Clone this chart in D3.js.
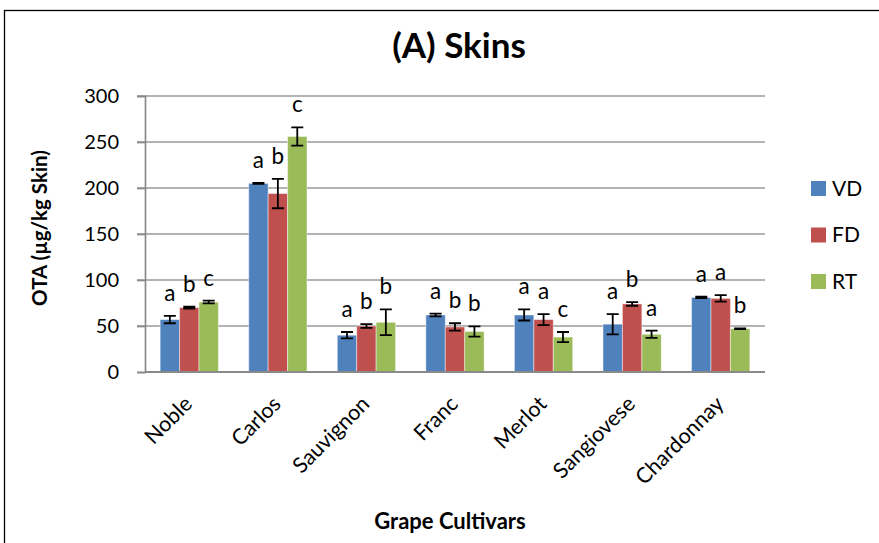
<!DOCTYPE html>
<html>
<head>
<meta charset="utf-8">
<script src="https://cdn.jsdelivr.net/npm/d3@7"></script>
<style>
  body { margin: 0; background: #fff; }
  svg { display: block; font-family: Lato, "Open Sans", sans-serif; }
</style>
</head>
<body>
<div id="chart"></div>
<script>
// values (OTA, ug/kg skin)
var categories = ["Noble", "Carlos", "Sauvignon", "Franc", "Merlot", "Sangiovese", "Chardonnay"];
var seriesNames = ["VD", "FD", "RT"];
var vdValues = [57, 205, 40, 62, 62, 52, 81];
var fdValues = [70, 194, 50, 49, 57, 74, 80];
var rtValues = [76, 256, 54, 44, 38, 41, 47];
var vdErrors = [4, 0.5, 3.5, 1.5, 6, 11, 0.8];
var fdErrors = [1, 16, 2, 4, 6, 2, 3.5];
var rtErrors = [1.5, 10, 14, 5.5, 5.5, 4, 0.5];
var vdLetters = ["a", "a", "a", "a", "a", "a", "a"];
var fdLetters = ["b", "b", "b", "b", "a", "b", "a"];
var rtLetters = ["c", "c", "b", "b", "c", "a", "b"];
var yTicks = [0, 50, 100, 150, 200, 250, 300];

var colors = {VD: "#4F81BD", FD: "#C0504D", RT: "#9BBB59"};

var width = 879, height = 543;
var plot = {left: 145, right: 765, top: 96, bottom: 372};

var svg = d3.select("#chart").append("svg")
    .attr("width", width)
    .attr("height", height);

// outer frame of the chart object
svg.append("rect")
    .attr("x", 4.5).attr("y", 10.5)
    .attr("width", 900).attr("height", 600)
    .attr("fill", "none")
    .attr("stroke", "#000")
    .attr("stroke-width", 1.3);

var x = d3.scaleBand()
    .domain(categories)
    .range([plot.left, plot.right])
    .paddingInner(0.342)
    .paddingOuter(0.171);

var x1 = d3.scaleBand()
    .domain(seriesNames)
    .range([0, x.bandwidth()]);

var y = d3.scaleLinear()
    .domain([0, 300])
    .range([plot.bottom, plot.top]);

// gridlines
svg.append("g")
    .selectAll("line")
    .data(yTicks.filter(function(d) { return d > 0; }))
    .enter().append("line")
    .attr("x1", plot.left - 8).attr("x2", plot.right)
    .attr("y1", function(d) { return y(d); })
    .attr("y2", function(d) { return y(d); })
    .attr("stroke", "#9a9a9a")
    .attr("stroke-width", 1.7);

// y axis
var yAxis = svg.append("g")
    .attr("transform", "translate(" + plot.left + ",0)")
    .call(d3.axisLeft(y).tickValues(yTicks).tickSize(8).tickPadding(18));
yAxis.select(".domain").attr("stroke", "#8a8a8a").attr("stroke-width", 1.7);
yAxis.selectAll(".tick line").attr("stroke", "#8a8a8a").attr("stroke-width", 1.7);
yAxis.selectAll(".tick text")
    .attr("font-family", "Lato, sans-serif")
    .attr("font-size", "20px")
    .attr("fill", "#000");

// build rows per series
var rows = categories.map(function(c, i) {
  return [
    {cat: c, s: "VD", v: vdValues[i], e: vdErrors[i], t: vdLetters[i]},
    {cat: c, s: "FD", v: fdValues[i], e: fdErrors[i], t: fdLetters[i]},
    {cat: c, s: "RT", v: rtValues[i], e: rtErrors[i], t: rtLetters[i]}
  ];
});

var groups = svg.append("g").selectAll("g")
    .data(rows)
    .enter().append("g")
    .attr("transform", function(d) { return "translate(" + x(d[0].cat) + ",0)"; });

var bar = groups.selectAll("g")
    .data(function(d) { return d; })
    .enter().append("g");

bar.append("rect")
    .attr("x", function(d) { return x1(d.s); })
    .attr("width", x1.bandwidth())
    .attr("y", function(d) { return y(d.v); })
    .attr("height", function(d) { return y(0) - y(d.v); })
    .attr("fill", function(d) { return colors[d.s]; })
    .attr("stroke", "rgba(255,255,255,0.45)")
    .attr("stroke-width", 1);

// error bars
var cap = 6;
bar.append("path")
    .attr("d", function(d) {
      var cx = x1(d.s) + x1.bandwidth() / 2;
      var hi = y(d.v + d.e), lo = y(d.v - d.e);
      return "M" + (cx - cap) + "," + hi + "H" + (cx + cap) +
             "M" + cx + "," + hi + "V" + lo +
             "M" + (cx - cap) + "," + lo + "H" + (cx + cap);
    })
    .attr("fill", "none")
    .attr("stroke", "#000")
    .attr("stroke-width", 1.8);

// significance letters
bar.append("text")
    .attr("x", function(d) { return x1(d.s) + x1.bandwidth() / 2; })
    .attr("y", function(d) { return y(d.v + d.e) - 15; })
    .attr("text-anchor", "middle")
    .attr("font-size", "22.5px")
    .text(function(d) { return d.t; });

// x axis line
svg.append("line")
    .attr("x1", plot.left).attr("x2", plot.right)
    .attr("y1", y(0)).attr("y2", y(0))
    .attr("stroke", "#8a8a8a")
    .attr("stroke-width", 2.2);

// category labels
svg.append("g").selectAll("text")
    .data(categories)
    .enter().append("text")
    .attr("transform", function(d) {
      return "translate(" + (x(d) + x.bandwidth() / 2 - 1) + "," + (y(0) + 28) + ") rotate(-45)";
    })
    .attr("text-anchor", "end")
    .attr("dy", "0.35em")
    .attr("font-size", "21.5px")
    .text(function(d) { return d; });

// titles
svg.append("text")
    .attr("x", 459).attr("y", 58)
    .attr("text-anchor", "middle")
    .attr("font-weight", "bold")
    .attr("font-size", "35px")
    .text("(A) Skins");

svg.append("text")
    .attr("x", 450).attr("y", 529)
    .attr("text-anchor", "middle")
    .attr("font-weight", "bold")
    .attr("font-size", "22px")
    .text("Grape Cultivars");

svg.append("text")
    .attr("transform", "translate(47,228) rotate(-90)")
    .attr("text-anchor", "middle")
    .attr("font-weight", "bold")
    .attr("font-size", "20.5px")
    .text("OTA (µg/kg Skin)");

// legend
var legend = svg.append("g").selectAll("g")
    .data(seriesNames)
    .enter().append("g")
    .attr("transform", function(d, i) { return "translate(811," + (188 + i * 46.5) + ")"; });

legend.append("rect")
    .attr("x", 0).attr("y", -7)
    .attr("width", 15).attr("height", 15)
    .attr("fill", function(d) { return colors[d]; });

legend.append("text")
    .attr("x", 21).attr("y", 0)
    .attr("dy", "0.36em")
    .attr("font-size", "21px")
    .text(function(d) { return d; });
</script>
</body>
</html>
